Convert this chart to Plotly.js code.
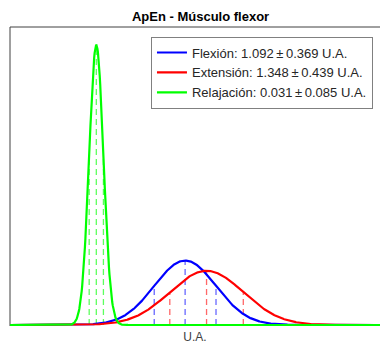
<!DOCTYPE html>
<html>
<head>
<meta charset="utf-8">
<script src="https://cdn.plot.ly/plotly-3.0.1.min.js"></script>
<style>
  html, body { margin: 0; padding: 0; background: #fff; }
  #chart { width: 380px; height: 345px; }
</style>
</head>
<body>
<div id="chart"></div>
<script>
// ApEn statistics of the flexor muscle for each condition
const conditions = ['Flexión', 'Extensión', 'Relajación'];
const means = [1.092, 1.348, 0.031];
const stds = [0.369, 0.439, 0.085];
const colors = ['#0000ff', '#ff0000', '#00ff00'];
const dashColors = ['rgba(40,40,255,0.7)', 'rgba(255,40,40,0.7)', 'rgba(40,255,40,0.75)'];
const xRange = [-1.0, 3.42];
const yRange = [-0.017, 5];

// Normal density for a condition's mean and standard deviation
function normalPdf(x, mu, sigma) {
  const z = (x - mu) / sigma;
  return Math.exp(-0.5 * z * z) / (sigma * Math.sqrt(2 * Math.PI));
}

const nSamples = 800;
const xs = [];
for (let i = 0; i <= nSamples; i++) {
  xs.push(xRange[0] + (xRange[1] - xRange[0]) * i / nSamples);
}

const traces = [];
conditions.forEach((name, k) => {
  const mu = means[k], sd = stds[k];
  // dashed markers at mean and mean ± one standard deviation
  [mu - sd, mu, mu + sd].forEach(xv => {
    traces.push({
      x: [xv, xv],
      y: [0, normalPdf(xv, mu, sd)],
      mode: 'lines',
      line: { color: dashColors[k], width: 1.3, dash: '6px,4px' },
      showlegend: false,
      hoverinfo: 'skip'
    });
  });
});

conditions.forEach((name, k) => {
  const mu = means[k], sd = stds[k];
  traces.push({
    x: xs,
    y: xs.map(x => normalPdf(x, mu, sd)),
    mode: 'lines',
    name: name + ': ' + mu.toFixed(3) + '\u2009±\u2009' + sd.toFixed(3) + ' U.A.',
    line: { color: colors[k], width: 2.2 },
    showlegend: true
  });
});

const layout = {
  width: 380,
  height: 345,
  margin: { l: 10, r: 0, t: 27, b: 19, pad: 0 },
  paper_bgcolor: '#ffffff',
  plot_bgcolor: '#ffffff',
  font: { family: 'Liberation Sans, Arial, sans-serif', size: 12, color: '#262626' },
  title: {
    text: '<b>ApEn - Músculo flexor</b>',
    font: { family: 'Liberation Sans, Arial, sans-serif', size: 13, color: '#000000' },
    x: 0.515, xref: 'paper', xanchor: 'center',
    y: 1 - 16 / 345, yref: 'container', yanchor: 'middle'
  },
  xaxis: {
    range: xRange,
    showgrid: false, zeroline: false, showline: false,
    showticklabels: false, ticks: '',
    title: { text: 'U.A.', font: { size: 12, color: '#404040' }, standoff: 6 }
  },
  yaxis: {
    range: yRange,
    showgrid: false, zeroline: false, showline: false,
    showticklabels: false, ticks: ''
  },
  shapes: [
    { type: 'line', xref: 'paper', yref: 'paper', x0: 0, x1: 0, y0: 0, y1: 1,
      line: { color: '#404040', width: 1 }, layer: 'below' },
    { type: 'line', xref: 'paper', yref: 'paper', x0: 0, x1: 1, y0: 1, y1: 1,
      line: { color: '#404040', width: 1 }, layer: 'below' }
  ],
  legend: {
    x: 0.981, xanchor: 'right',
    y: 0.968, yanchor: 'top',
    bgcolor: '#ffffff',
    bordercolor: '#808080',
    borderwidth: 1,
    font: { size: 13, color: '#262626' },
    tracegroupgap: 0
  },
  showlegend: true
};

Plotly.newPlot('chart', traces, layout, { staticPlot: true, displayModeBar: false });
</script>
</body>
</html>
